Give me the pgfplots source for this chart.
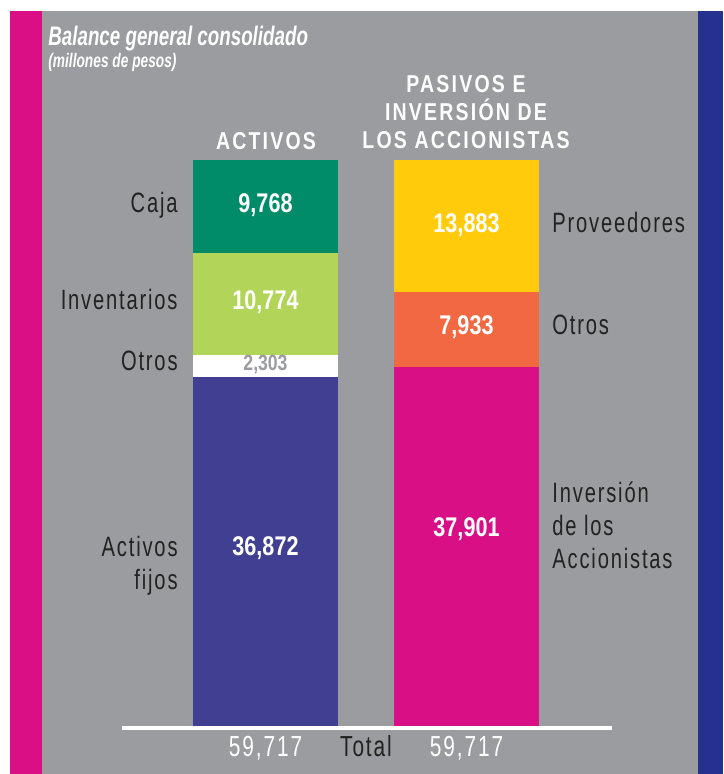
\documentclass[border=0pt]{standalone}
\usepackage{fontspec}
\setmainfont{Liberation Sans}
\newfontfamily\labfont[FakeStretch=0.72,LetterSpace=6.5]{Liberation Sans}
\newfontfamily\numfont[FakeStretch=0.8]{Liberation Sans}
\newfontfamily\headfont[FakeStretch=0.8,LetterSpace=9]{Liberation Sans}
\newfontfamily\titfont[FakeStretch=0.7]{Liberation Sans}
\usepackage{pgfplots}
\pgfplotsset{compat=1.18}

\definecolor{bggray}{HTML}{9B9CA0}
\definecolor{stripmag}{HTML}{DA0E85}
\definecolor{stripblue}{HTML}{24318E}
\definecolor{caja}{HTML}{008C68}
\definecolor{inv}{HTML}{B1D459}
\definecolor{fijos}{HTML}{403F91}
\definecolor{prov}{HTML}{FFCB0A}
\definecolor{otrosp}{HTML}{F26843}
\definecolor{accion}{HTML}{D90F85}
\definecolor{dark}{HTML}{222222}

\begin{document}
\begin{tikzpicture}
% background, in pixel coordinates of the 723x774 original
\begin{scope}[x=0.5pt,y=-0.5pt,yshift=387pt]
\fill[white] (0,0) rectangle (723,774);
\fill[bggray] (42,11) rectangle (698,774);
\fill[stripmag] (10,11) rectangle (42,774);
\fill[stripblue] (698,11) rectangle (723,774);
\end{scope}

\begin{axis}[at={(0,0)},anchor=south west,scale only axis,
  width=361.5pt,height=387pt,
  xmin=0,xmax=723,ymin=-5064.3,ymax=76598,
  hide axis,clip=false,
  ybar stacked,bar width=145]
% activos (x=265.5) / pasivos e inversion (x=466)
\addplot[fill=fijos,draw=none]  coordinates {(265.5,36872) (466,0)};
\addplot[fill=accion,draw=none] coordinates {(265.5,0) (466,37901)};
\addplot[fill=white,draw=none]  coordinates {(265.5,2303) (466,0)};
\addplot[fill=otrosp,draw=none] coordinates {(265.5,0) (466,7933)};
\addplot[fill=inv,draw=none]    coordinates {(265.5,10774) (466,0)};
\addplot[fill=prov,draw=none]   coordinates {(265.5,0) (466,13883)};
\addplot[fill=caja,draw=none]   coordinates {(265.5,9768) (466,0)};
\end{axis}

\begin{scope}[x=0.5pt,y=-0.5pt,yshift=387pt,every node/.style={inner sep=0pt}]
\fill[white] (122,726) rectangle (612,730.5);

\node[anchor=base west,white] at (48,46) {\titfont\bfseries\itshape\fontsize{13.4}{15}\selectfont Balance general consolidado};
\node[anchor=base west,white] at (48,67.5) {\titfont\bfseries\itshape\fontsize{9.8}{11}\selectfont (millones de pesos)};

\tikzset{hd/.style={anchor=base,white,font=\headfont\bfseries\fontsize{12.2}{14}\selectfont}}
\node[hd] at (266,149.5) {ACTIVOS};
\node[hd] at (466,93) {PASIVOS E};
\node[hd] at (466,121) {INVERSIÓN DE};
\node[hd] at (466,149) {LOS ACCIONISTAS};

\tikzset{lb/.style={dark,font=\labfont\fontsize{14}{16}\selectfont}}
\node[lb,anchor=base east] at (178,213) {Caja};
\node[lb,anchor=base east] at (178,310) {Inventarios};
\node[lb,anchor=base east] at (178,371) {Otros};
\node[lb,anchor=base east] at (178,557) {Activos};
\node[lb,anchor=base east] at (178,590) {fijos};
\node[lb,anchor=base west] at (552,233) {Proveedores};
\node[lb,anchor=base west] at (552,335) {Otros};
\node[lb,anchor=base west] at (552,503) {Inversión};
\node[lb,anchor=base west] at (552,536) {de los};
\node[lb,anchor=base west] at (552,569) {Accionistas};

\tikzset{nm/.style={anchor=base,white,font=\numfont\bfseries\fontsize{13.5}{15}\selectfont}}
\node[nm] at (265.5,213) {9,768};
\node[nm] at (265.5,310) {10,774};
\node[nm,bggray,font=\numfont\bfseries\fontsize{11}{12}\selectfont] at (265.5,371) {2,303};
\node[nm] at (265.5,556) {36,872};
\node[nm] at (466.5,233) {13,883};
\node[nm] at (466.5,335) {7,933};
\node[nm] at (466.5,537) {37,901};

\tikzset{tt/.style={anchor=base,font=\labfont\fontsize{14.5}{16}\selectfont}}
\node[tt,white] at (265.5,756.5) {59,717};
\node[tt,dark] at (366,756) {Total};
\node[tt,white] at (466.5,756.5) {59,717};
\end{scope}
\end{tikzpicture}
\end{document}
